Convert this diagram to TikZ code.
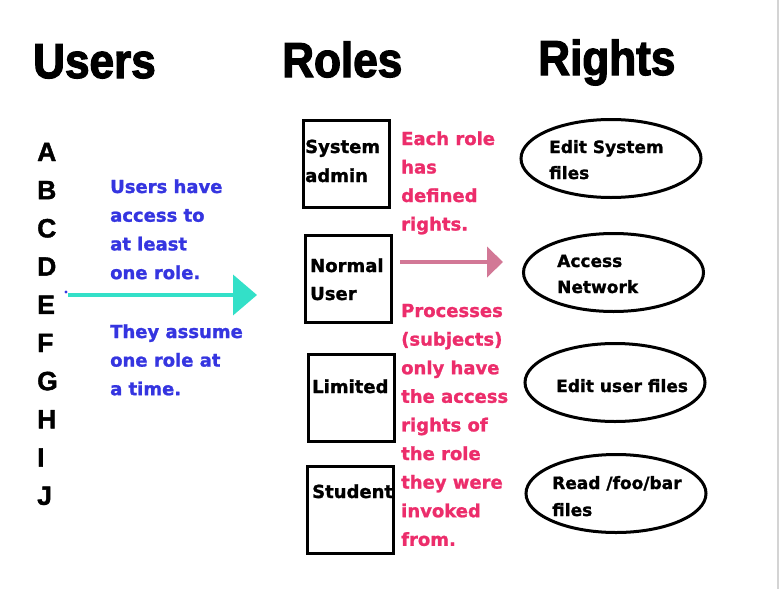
\documentclass[tikz,border=0pt]{standalone}
\usepackage{fontspec}
\setmainfont[BoldFeatures={FakeBold=1.3}]{DejaVu Sans}
\newfontfamily\titlefont[FakeStretch=0.9,BoldFeatures={FakeBold=2.5}]{Liberation Sans}
\newfontfamily\letterfont[BoldFeatures={FakeBold=1.5}]{Liberation Sans}
\usetikzlibrary{arrows.meta,shapes.geometric}
\definecolor{bluetxt}{HTML}{3535E0}
\definecolor{pinktxt}{HTML}{EC2D6B}
\definecolor{cyanarr}{HTML}{33E0C8}
\definecolor{rosearr}{HTML}{D27896}
\definecolor{edgegray}{HTML}{D4D4D4}
\begin{document}
\begin{tikzpicture}[x=1pt,y=-1pt,
  title/.style={anchor=base west,inner sep=0,font=\titlefont\bfseries\fontsize{49}{49}\selectfont},
  letter/.style={anchor=base west,inner sep=0,font=\letterfont\bfseries\fontsize{26.5}{26.5}\selectfont},
  line/.style={anchor=base west,inner sep=0,font=\bfseries\fontsize{18}{18}\selectfont},
  bluel/.style={line,text=bluetxt},
  pinkl/.style={line,text=pinktxt},
  boxl/.style={line,text=black},
  elll/.style={anchor=base west,inner sep=0,font=\bfseries\fontsize{17}{17}\selectfont},
  rolebox/.style={draw=black,line width=3,inner sep=0,minimum width=86,minimum height=87},
  rightell/.style={draw=black,ellipse,line width=3,inner sep=0,minimum width=180,minimum height=78},
]
\useasboundingbox (0,0) rectangle (781,589);
\draw[edgegray,line width=2] (778,0) -- (778,589);

% titles
\node[title] (tu) at (33,78) {Users};
\node[title] (tr) at (282,77) {Roles};
\node[title] (tg) at (538,75) {Rights};

% users
\foreach \l [count=\i from 0] in {A,B,C,D,E,F,G,H,I,J}
  \node[letter] (u\i) at (37,{161+38.2*\i}) {\l};

% blue notes
\foreach \t [count=\i from 0] in {Users have,access to,at least,one role.}
  \node[bluel] (ba\i) at (110,{193+28.7*\i}) {\t};
\foreach \t [count=\i from 0] in {They assume,one role at,a time.}
  \node[bluel] (bb\i) at (110,{338+28.6*\i}) {\t};

% cyan arrow
\coordinate (ca) at (68,295);
\coordinate (cb) at (257,295);
\draw[cyanarr,line width=4,-{Triangle[length=24pt,width=40pt]}] (ca) -- (cb);
\fill[bluetxt] (66,292) circle (1.6);

% role boxes
\node[rolebox] (sa) at (346,164) {};
\node[rolebox] (nu) at (348.5,279) {};
\node[rolebox] (li) at (351.5,398) {};
\node[rolebox] (st) at (350,510) {};
\node[boxl] (sa1) at (305,153) {System};
\node[boxl] (sa2) at (305,182) {admin};
\node[boxl] (nu1) at (310,272) {Normal};
\node[boxl] (nu2) at (310,300) {User};
\node[boxl] (li1) at (312,393) {Limited};
\node[boxl] (st1) at (312,498) {Student};

% pink notes
\foreach \t [count=\i from 0] in {Each role,has,defined,rights.}
  \node[pinkl] (pa\i) at (401,{145+28.5*\i}) {\t};
\foreach \t [count=\i from 0] in {Processes,(subjects),only have,the access,rights of,the role,they were,invoked,from.}
  \node[pinkl] (pb\i) at (401,{317+28.6*\i}) {\t};

% pink arrow
\coordinate (pa) at (400,262);
\coordinate (pb) at (503,262);
\draw[rosearr,line width=4,-{Triangle[length=16pt,width=30pt]}] (pa) -- (pb);

% rights
\node[rightell] (r1) at (611,158.5) {};
\node[rightell] (r2) at (613.5,272.5) {};
\node[rightell] (r3) at (615,382.5) {};
\node[rightell] (r4) at (616,493.5) {};
\node[elll] (r1a) at (549,153) {Edit System};
\node[elll] (r1b) at (549,179) {files};
\node[elll] (r2a) at (557,267) {Access};
\node[elll] (r2b) at (557,293) {Network};
\node[elll] (r3a) at (556,392) {Edit user files};
\node[elll] (r4a) at (552,489) {Read /foo/bar};
\node[elll] (r4b) at (552,516) {files};
\end{tikzpicture}
\end{document}
